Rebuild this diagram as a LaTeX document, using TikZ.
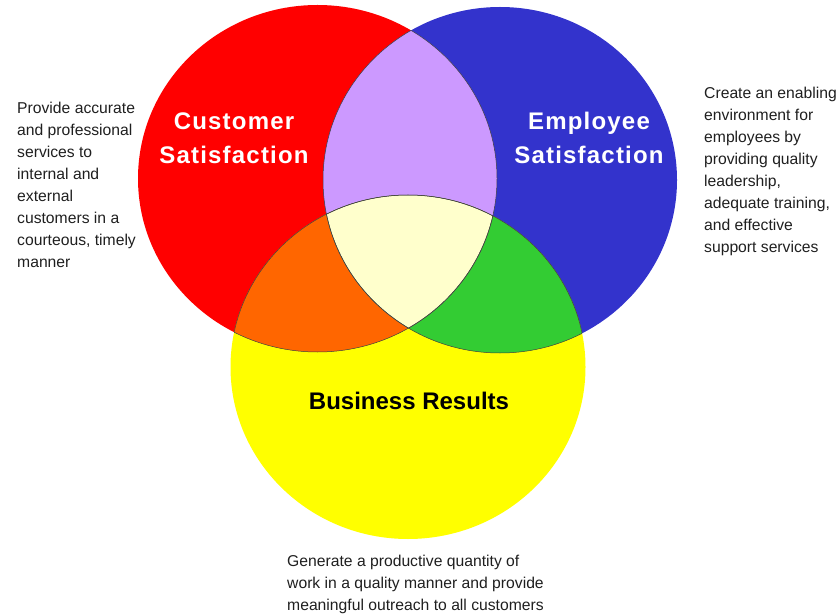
\documentclass[tikz,border=0pt]{standalone}
\usepackage{fontspec}
\setmainfont{Liberation Sans}
\definecolor{cred}{HTML}{FF0000}
\definecolor{cblue}{HTML}{3333CC}
\definecolor{cyel}{HTML}{FFFF00}
\definecolor{cpurp}{HTML}{CC99FF}
\definecolor{corange}{HTML}{FF6600}
\definecolor{cgreen}{HTML}{33CC33}
\definecolor{cpale}{HTML}{FFFFCC}
\tikzset{
  heading/.style={font=\fontsize{24}{34}\selectfont\bfseries\addfontfeature{LetterSpace=5}, align=center, inner sep=0pt},
  bheading/.style={font=\fontsize{24}{34}\selectfont\bfseries, align=center, inner sep=0pt},
  sidetext/.style={font=\fontsize{15.7}{22}\selectfont, align=left, inner sep=0pt, text=black!88},
  edge/.style={draw=black!75, line width=0.5pt}
}
\begin{document}
\begin{tikzpicture}[x=1pt,y=1pt]
\useasboundingbox (0,0) rectangle (837,614);
% circles
\fill[cred] (317.5,435.5) ellipse [x radius=179.5, y radius=173.5];
\fill[cblue] (500,434) ellipse [x radius=177, y radius=173];
\fill[cyel] (408,247) ellipse [x radius=177.5, y radius=172];
% pairwise
\begin{scope}
\clip (317.5,435.5) ellipse [x radius=179.5, y radius=173.5];
\fill[cpurp] (500,434) ellipse [x radius=177, y radius=173];
\fill[corange] (408,247) ellipse [x radius=177.5, y radius=172];
\end{scope}
\begin{scope}
\clip (500,434) ellipse [x radius=177, y radius=173];
\fill[cgreen] (408,247) ellipse [x radius=177.5, y radius=172];
\clip (317.5,435.5) ellipse [x radius=179.5, y radius=173.5];
\fill[cpale] (408,247) ellipse [x radius=177.5, y radius=172];
\end{scope}
% internal outlines
\begin{scope}
\clip (317.5,435.5) ellipse [x radius=179.5, y radius=173.5];
\draw[edge] (500,434) ellipse [x radius=177, y radius=173];
\draw[edge] (408,247) ellipse [x radius=177.5, y radius=172];
\end{scope}
\begin{scope}
\clip (500,434) ellipse [x radius=177, y radius=173];
\draw[edge] (317.5,435.5) ellipse [x radius=179.5, y radius=173.5];
\draw[edge] (408,247) ellipse [x radius=177.5, y radius=172];
\end{scope}
\begin{scope}
\clip (408,247) ellipse [x radius=177.5, y radius=172];
\draw[edge] (317.5,435.5) ellipse [x radius=179.5, y radius=173.5];
\draw[edge] (500,434) ellipse [x radius=177, y radius=173];
\end{scope}
% headings
\node[heading, text=white] (cust) at (234,476) {Customer\\Satisfaction};
\node[heading, text=white] (empl) at (589,476) {Employee\\Satisfaction};
\node[bheading, text=black] (bus) at (409,213) {Business Results};
% side texts
\node[sidetext, anchor=north west] (ctext) at (17,512) {Provide accurate\\and professional\\services to\\internal and\\external\\customers in a\\courteous, timely\\manner};
\node[sidetext, anchor=north west] (etext) at (704,527) {Create an enabling\\environment for\\employees by\\providing quality\\leadership,\\adequate training,\\and effective\\support services};
\node[sidetext, anchor=north west] (btext) at (287,59) {Generate a productive quantity of\\work in a quality manner and provide\\meaningful outreach to all customers};
\end{tikzpicture}
\end{document}
